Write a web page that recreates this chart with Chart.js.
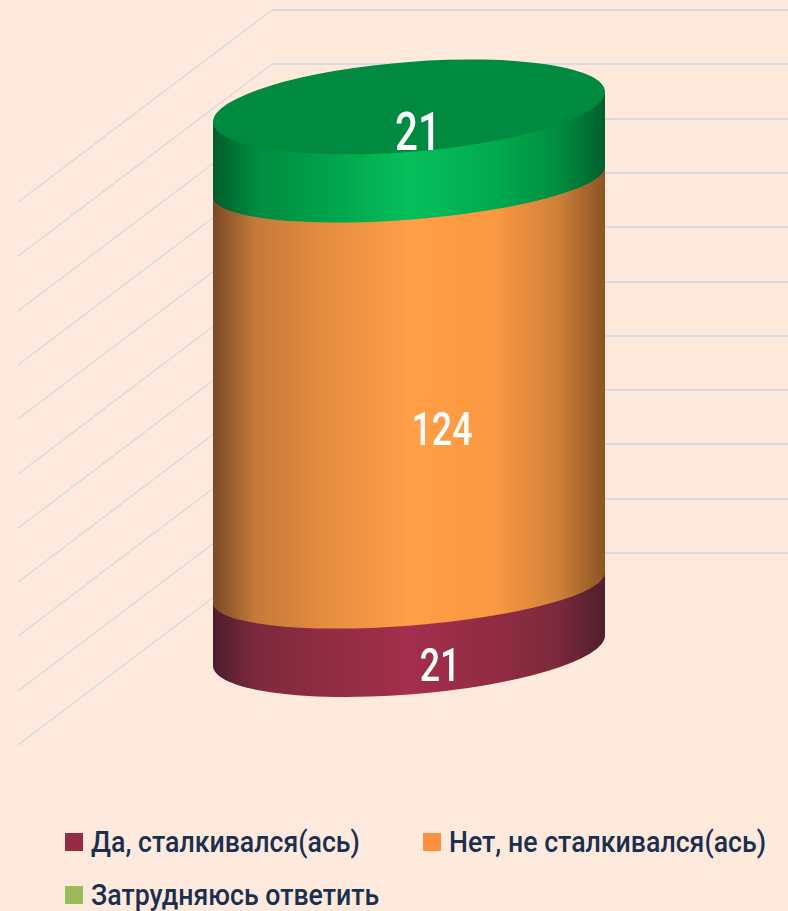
<!DOCTYPE html>
<html>
<head>
<meta charset="utf-8">
<script src="https://cdn.jsdelivr.net/npm/chart.js@4"></script>
<style>
  html, body { margin: 0; padding: 0; width: 788px; height: 911px; overflow: hidden; background: #fdeadd; }
  #myChart { position: absolute; left: 0; top: 0; }
  #legend {
    position: absolute; left: 65px; top: 815px;
    display: grid; grid-template-columns: 358px auto; grid-auto-rows: 53px;
    font: 500 30px Roboto, sans-serif; color: #1b2f4e;
  }
  #legend div { display: flex; align-items: center; white-space: nowrap; }
  #legend i { width: 18px; height: 18px; margin-right: 8px; display: block; }
  #legend span { display: block; transform: scaleX(0.89); transform-origin: left center; }
</style>
</head>
<body>
<canvas id="myChart" width="788" height="760"></canvas>
<div id="legend"></div>
<script>
const categories = ['Ответы'];
const seriesNames = ['Да, сталкивался(ась)', 'Нет, не сталкивался(ась)', 'Затрудняюсь ответить'];
const seriesValues = [21, 124, 21];
const legendColors = ['#952c44', '#f9923f', '#9bbb59'];
const wallTicks = [0, 20, 40, 60, 80, 100, 120, 140, 160, 180, 200];

// side shading of each slice, left edge to right edge
const stopAt = [0, 0.11, 0.28, 0.5, 0.72, 0.88, 1];
const sideStops = [
  ['#4d1c2b', '#7b2a3d', '#8f2c42', '#a32f4d', '#912b43', '#7a2a3c', '#4f1e2c'],
  ['#7b4a26', '#c47a38', '#e58c40', '#ff9f47', '#fb9843', '#cf8039', '#8a5424'],
  ['#005c2c', '#008c40', '#00a04a', '#06bf5b', '#00ab4e', '#008c40', '#025f2e']
];
const capColor = '#008a40';

const skew = -0.0765;
const capDepth = 45;
const baseDepth = 44;
const seamDepth = 38;
const seamDrop = 6;
const labelOffset = [[31, 53], [33, 55], [9, -5]];
const labelSize = [47, 47, 53];
const labelSqueeze = 0.76;

function side(ctx, bar, i, bottomY, topY, depth) {
  const a = bar.width / 2;
  ctx.save();
  ctx.transform(1, skew, 0, 1, bar.x, bottomY);
  const g = ctx.createLinearGradient(-a, 0, a, 0);
  sideStops[i].forEach((c, n) => g.addColorStop(stopAt[n], c));
  ctx.fillStyle = g;
  ctx.beginPath();
  ctx.ellipse(0, 0, a, depth, 0, 0, Math.PI);
  ctx.lineTo(-a, topY - bottomY);
  ctx.lineTo(a, topY - bottomY);
  ctx.closePath();
  ctx.fill();
  ctx.restore();
}

const cylinder = {
  id: 'cylinder',
  beforeDatasetsDraw(chart) {
    const ctx = chart.ctx;
    const wall = chart.scales.wall;
    ctx.save();
    ctx.strokeStyle = '#d5dbdf';
    wallTicks.forEach(t => {
      const y = Math.round(wall.getPixelForValue(t));
      ctx.lineWidth = 2;
      ctx.beginPath();
      ctx.moveTo(chart.chartArea.right, y);
      ctx.lineTo(272, y);
      ctx.stroke();
      ctx.lineWidth = 1.4;
      ctx.beginPath();
      ctx.moveTo(272, y);
      ctx.lineTo(18, y + 192);
      ctx.stroke();
    });
    ctx.restore();
  },
  afterDatasetsDraw(chart) {
    const ctx = chart.ctx;
    const bars = chart.data.datasets.map((d, i) => chart.getDatasetMeta(i).data[0]);
    bars.forEach((bar, i) => {
      const bottomY = i === 0 ? bar.base : bar.base + seamDrop;
      side(ctx, bar, i, bottomY, bar.y, i === 0 ? baseDepth : seamDepth);
    });

    const top = bars[bars.length - 1];
    ctx.save();
    ctx.transform(1, skew, 0, 1, top.x, top.y);
    ctx.fillStyle = capColor;
    ctx.beginPath();
    ctx.ellipse(0, 0, top.width / 2, capDepth, 0, 0, Math.PI * 2);
    ctx.fill();
    ctx.restore();

    ctx.fillStyle = '#fff';
    ctx.textAlign = 'center';
    ctx.textBaseline = 'middle';
    bars.forEach((bar, i) => {
      ctx.save();
      ctx.font = '500 ' + labelSize[i] + 'px Roboto, sans-serif';
      ctx.translate(bar.x + labelOffset[i][0], (bar.y + bar.base) / 2 + labelOffset[i][1]);
      ctx.scale(labelSqueeze, 1);
      ctx.fillText(seriesValues[i], 0, 0);
      ctx.restore();
    });
  }
};

const myChart = new Chart(document.getElementById('myChart'), {
  type: 'bar',
  data: {
    labels: categories,
    datasets: seriesNames.map((name, i) => ({
      label: name,
      data: [seriesValues[i]],
      backgroundColor: 'transparent',
      barThickness: 392
    }))
  },
  options: {
    responsive: false,
    animation: false,
    layout: { padding: { left: 30, right: 0, top: 10, bottom: 109.5 } },
    plugins: { legend: { display: false }, tooltip: { enabled: false } },
    scales: {
      x: { stacked: true, display: false },
      y: { stacked: true, display: false, min: 0, max: 195.6 },
      wall: { type: 'linear', axis: 'y', display: false, min: -35.9, max: 200 }
    }
  },
  plugins: [cylinder]
});

const legend = document.getElementById('legend');
seriesNames.forEach((name, i) => {
  const item = document.createElement('div');
  const box = document.createElement('i');
  box.style.background = legendColors[i];
  const text = document.createElement('span');
  text.textContent = name;
  item.appendChild(box);
  item.appendChild(text);
  legend.appendChild(item);
});
</script>
</body>
</html>
